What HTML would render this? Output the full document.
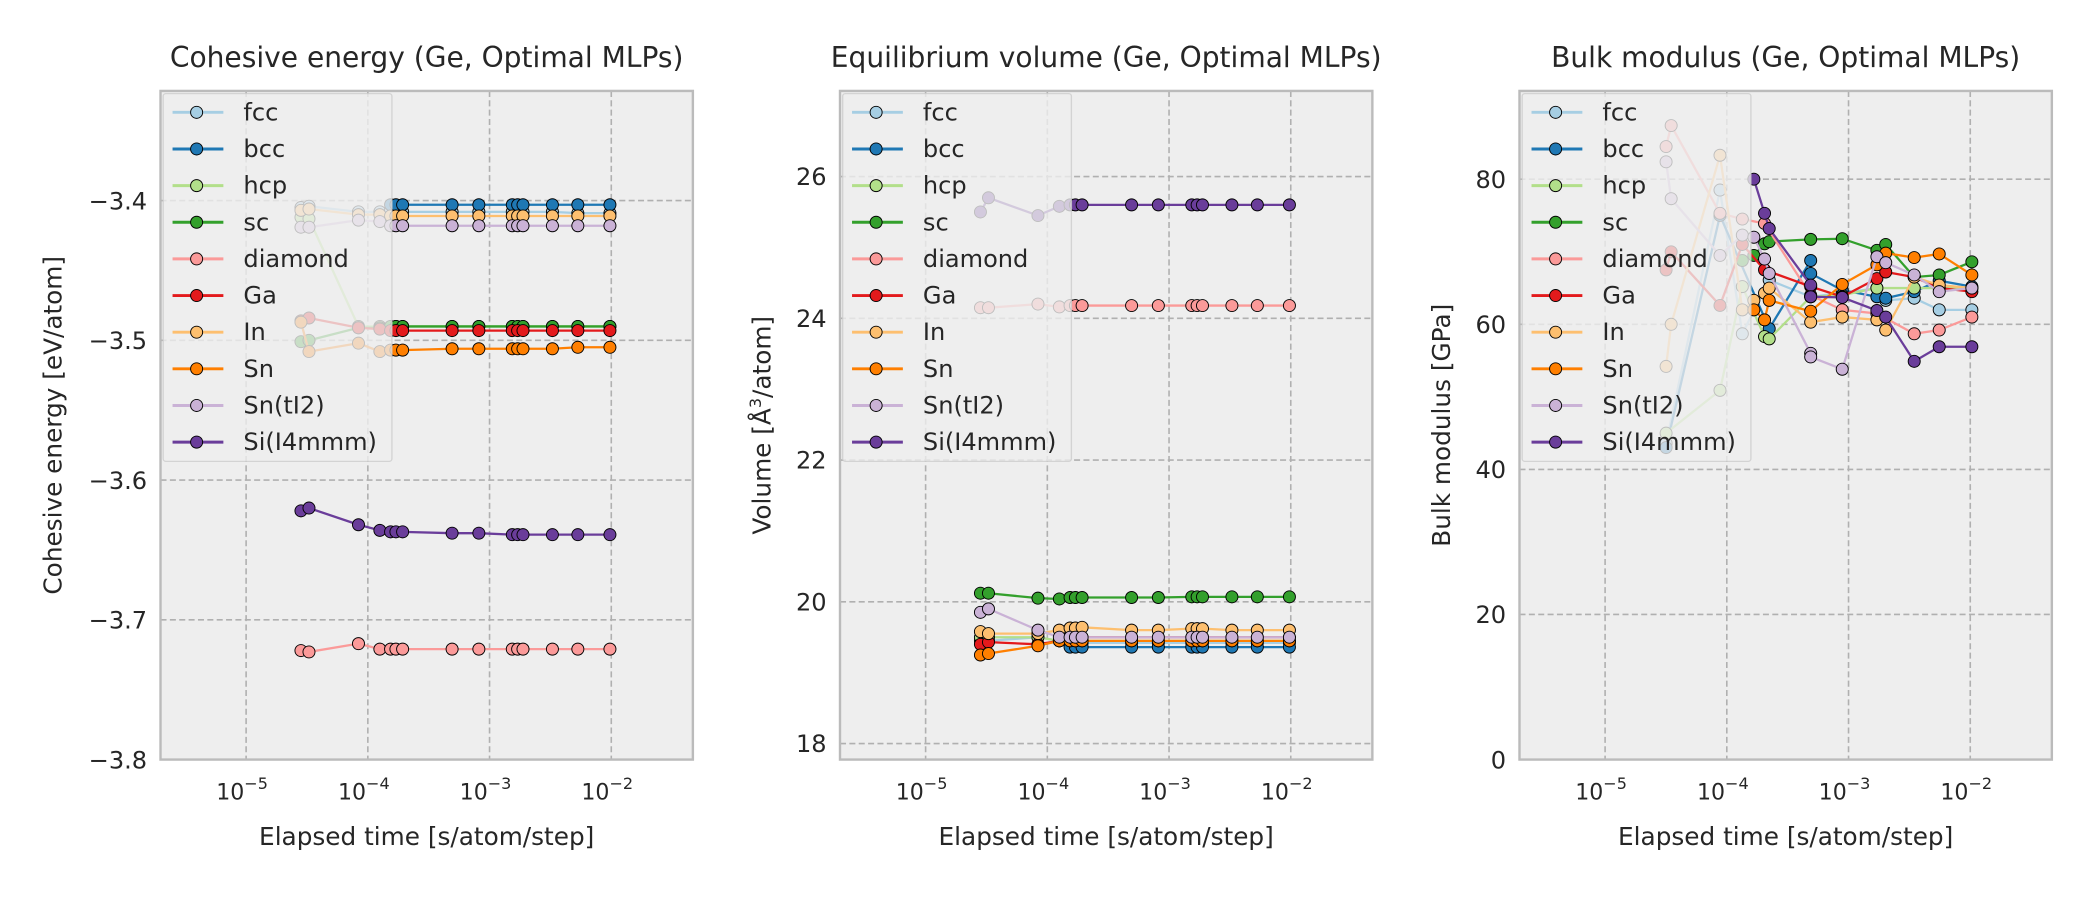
<!DOCTYPE html>
<html><head><meta charset="utf-8"><style>
html,body{margin:0;padding:0;background:#fff;}
svg{display:block;font-family:"DejaVu Sans","Liberation Sans",sans-serif;}
</style></head><body>
<svg id="s" width="2100" height="900" viewBox="0 0 1570 673" preserveAspectRatio="none" xmlns="http://www.w3.org/2000/svg"></svg>
<script>
const S=document.getElementById('s');let h='';
const C={fcc:'#a6cee3',bcc:'#1f78b4',hcp:'#b2df8a',sc:'#33a02c',diamond:'#fb9a99',Ga:'#e31a1c',In:'#fdbf6f',Sn:'#ff7f00',SnT:'#cab2d6',Si:'#6a3d9a'};
const names=[['fcc','fcc'],['bcc','bcc'],['hcp','hcp'],['sc','sc'],['diamond','diamond'],['Ga','Ga'],['In','In'],['Sn','Sn'],['SnT','Sn(tI2)'],['Si','Si(I4mmm)']];
const X=[225,231,268,284,292,296,301,338,358,383,387,391,413,432,456];
function rep(v,n){return Array(n).fill(v);}
function series(pts,col){let d=pts.map((p,i)=>(i?'L':'M')+p[0].toFixed(1)+' '+p[1].toFixed(1)).join(' ');
 let s=`<path d="${d}" fill="none" stroke="${col}" stroke-width="1.7"/>`;
 pts.forEach(p=>{s+=`<circle cx="${p[0].toFixed(1)}" cy="${p[1].toFixed(1)}" r="4.5" fill="${col}" stroke="#000" stroke-width="0.7"/>`});return s;}
function panel(off,title,ylab,yt,fy,data,pairs){
 const L=120+off,R=518+off,T=68,B=568;
 h+=`<defs><clipPath id="c${off}"><rect x="${L}" y="${T}" width="${R-L}" height="${B-T}"/></clipPath></defs>`;
 h+=`<rect x="${L}" y="${T}" width="${R-L}" height="${B-T}" fill="#eeeeee"/>`;
 [184,275,366,457].forEach(x=>{h+=`<line x1="${x+off}" y1="${T}" x2="${x+off}" y2="${B}" stroke="#b0b0b0" stroke-width="1.2" stroke-dasharray="4.5,2.5"/>`;});
 yt.forEach(t=>{let y=fy(t[0]);h+=`<line x1="${L}" y1="${y}" x2="${R}" y2="${y}" stroke="#b0b0b0" stroke-width="1.2" stroke-dasharray="4.5,2.5"/>`;
  h+=`<text x="${L-10}" y="${y+6.5}" font-size="18" fill="#262626" text-anchor="end">${t[1]}</text>`;});
 h+=`<g clip-path="url(#c${off})">`;
 names.forEach(n=>{let pts;
  if(pairs){pts=data[n[0]].map(p=>[(1500+p[0]/2.6)/1.3376,fy(p[1])]);}
  else{pts=[];data[n[0]].forEach((v,i)=>{if(v!==null)pts.push([X[i]+off,fy(v)]);});}
  h+=series(pts,C[n[0]]);});
 h+=`</g>`;
 h+=`<rect x="${L}" y="${T}" width="${R-L}" height="${B-T}" fill="none" stroke="#bbbbbb" stroke-width="1.8"/>`;
 h+=`<rect x="${L+2}" y="${T+2}" width="171" height="275" rx="2" fill="#eeeeee" fill-opacity="0.8" stroke="#cccccc" stroke-opacity="0.8" stroke-width="1"/>`;
 names.forEach((n,i)=>{let y=84+i*27.4;h+=`<line x1="${L+9}" y1="${y}" x2="${L+47}" y2="${y}" stroke="${C[n[0]]}" stroke-width="2.2"/><circle cx="${L+27}" cy="${y}" r="4.5" fill="${C[n[0]]}" stroke="#000" stroke-width="0.7"/><text x="${L+62}" y="${y+6}" font-size="18" fill="#262626">${n[1]}</text>`;});
 [[184,'5'],[275,'4'],[366,'3'],[457,'2']].forEach(t=>{h+=`<text x="${t[0]+off-3}" y="598" font-size="16.5" fill="#262626" text-anchor="middle">10<tspan dy="-8" font-size="12">−${t[1]}</tspan></text>`;});
 h+=`<text x="${(L+R)/2}" y="632" font-size="18.5" fill="#262626" text-anchor="middle">Elapsed time [s/atom/step]</text>`;
 h+=`<text x="${(L+R)/2}" y="50" font-size="21" fill="#262626" text-anchor="middle">${title}</text>`;
 h+=`<text transform="translate(${ylab[1]},318) rotate(-90)" font-size="18.5" fill="#262626" text-anchor="middle">${ylab[0]}</text>`;
}
const f1=v=>150+(-3.4-v)*1045;
const d1={
 fcc:[-3.405,-3.404,-3.408,-3.408,-3.407,-3.408,-3.408,-3.408,-3.408,-3.408,-3.408,-3.408,-3.408,-3.409,-3.409],
 bcc:[null,null,null,null].concat(rep(-3.403,11)),
 hcp:[-3.412,-3.413].concat(rep(-3.49,13)),
 sc:[-3.501,-3.5,-3.491,-3.491].concat(rep(-3.49,11)),
 diamond:[-3.722,-3.723,-3.717].concat(rep(-3.721,12)),
 Ga:[-3.486,-3.484,-3.491,-3.492].concat(rep(-3.493,11)),
 In:[-3.407,-3.406,-3.41,-3.41].concat(rep(-3.411,11)),
 Sn:[-3.487,-3.508,-3.502,-3.508,-3.507,-3.507,-3.507,-3.506,-3.506,-3.506,-3.506,-3.506,-3.506,-3.505,-3.505],
 SnT:[-3.419,-3.419,-3.414,-3.415].concat(rep(-3.418,11)),
 Si:[-3.622,-3.620,-3.632,-3.636,-3.637,-3.637,-3.637,-3.638,-3.638].concat(rep(-3.639,6))};
panel(0,'Cohesive energy (Ge, Optimal MLPs)',['Cohesive energy [eV/atom]',46],[[-3.4,'−3.4'],[-3.5,'−3.5'],[-3.6,'−3.6'],[-3.7,'−3.7'],[-3.8,'−3.8']],f1,d1);
const f2=v=>450-(v-20)*53;
const d2={
 fcc:[19.45,19.45,19.5,19.45].concat(rep(19.42,11)),
 bcc:[null,null,null,null].concat(rep(19.36,11)),
 hcp:[19.5,19.5,19.5].concat(rep(19.45,12)),
 sc:[20.12,20.12,20.05,20.04,20.06,20.06,20.06,20.06,20.06].concat(rep(20.07,6)),
 diamond:[24.15,24.15,24.2,24.16].concat(rep(24.18,11)),
 Ga:[19.4,19.43,19.4,19.45].concat(rep(19.5,11)),
 In:[19.58,19.55,19.55,19.6,19.63,19.63,19.64,19.6,19.6,19.62,19.62,19.62,19.6,19.6,19.6],
 Sn:[19.25,19.27,19.38].concat(rep(19.45,12)),
 SnT:[19.85,19.9,19.6].concat(rep(19.5,12)),
 Si:[25.5,25.7,25.45,25.58].concat(rep(25.6,11))};
panel(508,'Equilibrium volume (Ge, Optimal MLPs)',['Volume [Å<tspan dy="-7" font-size="12">3</tspan><tspan dy="7">/atom]</tspan>',576],[[18,'18'],[20,'20'],[22,'22'],[24,'24'],[26,'26']],f2,d2);
const f3=v=>568-v*5.425;
const d3={
 fcc:[[432,43.6],[572,78.5],[630,58.7],[700,66.1],[808,63.8],[890,64.3],[980,65],[1003,63.3],[1077,63.6],[1142,62],[1227,62]],
 bcc:[[432,43],[572,75],[700,59.4],[808,68.8],[808,67],[890,64.7],[980,63.8],[1003,63.6],[1077,64.5],[1142,66],[1227,65.2]],
 hcp:[[432,45],[572,50.9],[630,65.2],[688,58.3],[700,58],[808,63.8],[890,64],[980,65],[1077,65],[1227,65]],
 sc:[[630,68.8],[660,69.5],[688,71.1],[700,71.4],[808,71.7],[890,71.8],[980,70.2],[1003,71],[1077,66.5],[1142,66.8],[1227,68.6]],
 diamond:[[432,84.5],[445,87.4],[572,75.3],[630,74.5],[688,73.9],[808,64],[890,62],[980,61.5],[1077,58.7],[1142,59.2],[1227,61]],
 Ga:[[432,67.5],[445,70],[572,62.6],[630,71],[688,67.5],[808,65.2],[890,63.8],[980,66.3],[1003,67.2],[1077,66.5],[1142,65],[1227,64.5]],
 In:[[432,54.2],[445,60],[572,83.3],[630,62],[660,63.3],[688,64.3],[700,65],[808,60.3],[890,61],[980,60.6],[1003,59.2],[1077,66.5],[1142,65.4],[1227,65]],
 Sn:[[660,62],[688,60.6],[700,63.3],[808,61.8],[890,65.5],[980,68.2],[1003,69.8],[1077,69.2],[1142,69.7],[1227,66.8]],
 SnT:[[432,82.4],[445,77.3],[572,69.5],[630,72.3],[660,72],[688,69],[700,67],[808,56],[808,55.5],[890,53.8],[980,69.3],[1003,68.5],[1077,66.8],[1142,64.5],[1227,65]],
 Si:[[660,80],[688,75.3],[700,73.2],[808,65.4],[808,63.8],[890,63.7],[980,61.9],[1003,61],[1077,54.9],[1142,56.9],[1227,56.9]]};
panel(1016,'Bulk modulus (Ge, Optimal MLPs)',['Bulk modulus [GPa]',1084],[[0,'0'],[20,'20'],[40,'40'],[60,'60'],[80,'80']],f3,d3,true);
S.innerHTML=h;
</script>
</body></html>
